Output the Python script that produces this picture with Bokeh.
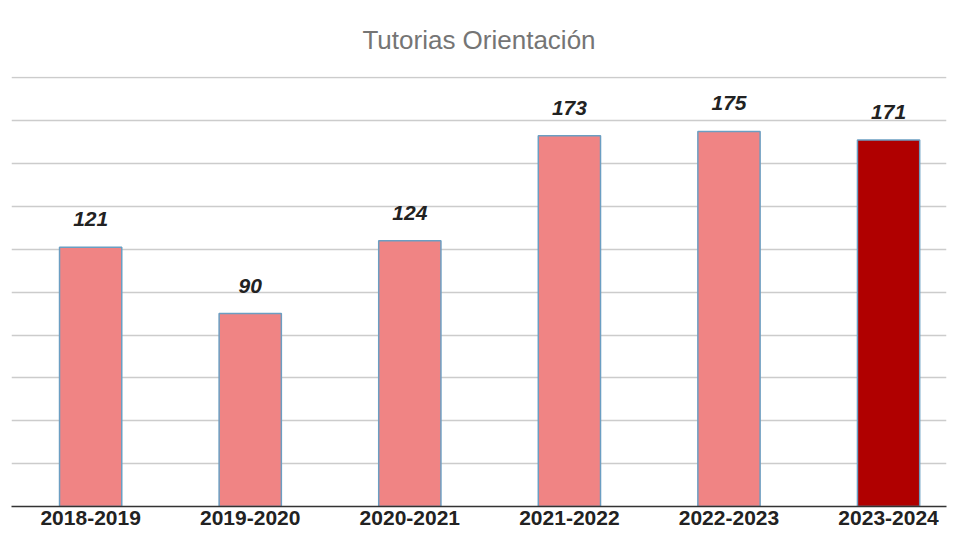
from bokeh.plotting import figure
from bokeh.models import ColumnDataSource, Range1d, FixedTicker
from bokeh.core.properties import value
from bokeh.embed import file_html
from bokeh.resources import INLINE

categories = ["2018-2019", "2019-2020", "2020-2021", "2021-2022", "2022-2023", "2023-2024"]
values = [121, 90, 124, 173, 175, 171]
colors = ["#f08484", "#f08484", "#f08484", "#f08484", "#f08484", "#b00000"]
y_ticks = [0, 20, 40, 60, 80, 100, 120, 140, 160, 180, 200]

xs = list(range(len(categories)))
src = ColumnDataSource(dict(x=xs, v=values, c=colors, lab=[str(v) for v in values]))

p = figure(width=950, height=533, output_backend="svg", toolbar_location=None,
           x_range=Range1d(-0.496, 5.363), y_range=Range1d(0, 200.6),
           title="Tutorias Orientación",
           min_border_left=11, min_border_right=4, min_border_top=76, min_border_bottom=27)

p.title.align = "center"
p.title.vertical_align = "bottom"
p.title.text_font = "Liberation Sans"
p.title.text_font_style = "normal"
p.title.text_font_size = "26px"
p.title.text_color = "#757575"
p.title.standoff = 43

p.vbar(x="x", top="v", width=0.39, bottom=0, source=src, fill_color="c",
       line_color="#6b9ec2", line_width=1.5)

p.text(x="x", y="v", text="lab", source=src, text_align="center", text_baseline="bottom",
       y_offset=-21, text_font=value("Liberation Sans"), text_font_size="21px",
       text_font_style="bold italic", text_color="#222222")

p.yaxis.visible = False
p.xgrid.visible = False
p.ygrid.ticker = FixedTicker(ticks=y_ticks)
p.ygrid.grid_line_color = "#cccccc"
p.ygrid.grid_line_width = 1.5

p.xaxis.ticker = FixedTicker(ticks=xs)
p.xaxis.major_label_overrides = {i: c for i, c in enumerate(categories)}
p.xaxis.major_tick_line_color = None
p.xaxis.minor_tick_line_color = None
p.xaxis.major_tick_out = 0
p.xaxis.major_tick_in = 0
p.xaxis.axis_line_color = "#333333"
p.xaxis.axis_line_width = 1.5
p.xaxis.major_label_text_font = "Liberation Sans"
p.xaxis.major_label_text_font_size = "21px"
p.xaxis.major_label_text_font_style = "bold"
p.xaxis.major_label_text_color = "#222222"
p.xaxis.major_label_standoff = 4
p.outline_line_color = None

open("out.html", "w").write(file_html(p, INLINE))
